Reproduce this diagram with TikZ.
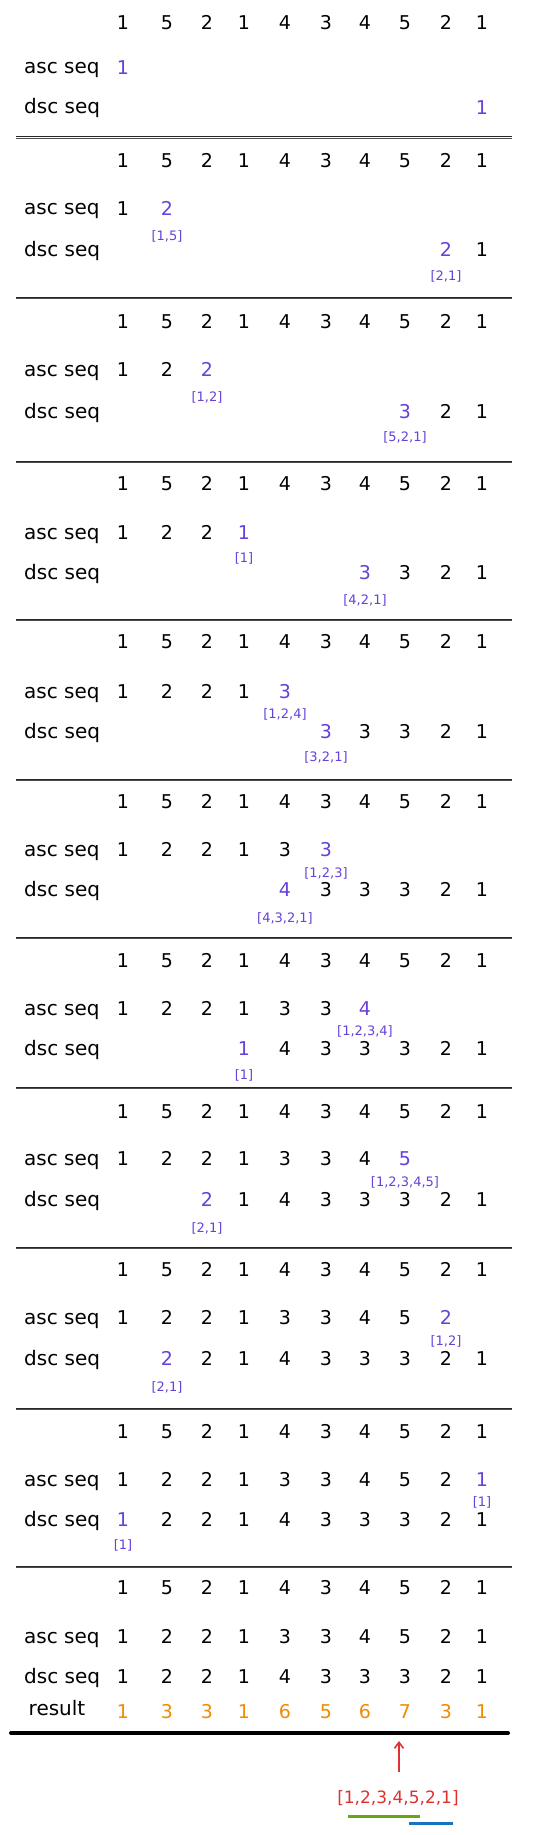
\documentclass[tikz,border=0pt]{standalone}
\usepackage{fontspec}
\setmainfont{DejaVu Sans}
\usetikzlibrary{arrows.meta}
\definecolor{vio}{HTML}{6741D9}
\definecolor{org}{HTML}{F08C00}
\definecolor{rd}{HTML}{E03131}
\definecolor{grn}{HTML}{66A80F}
\definecolor{blu}{HTML}{1971C2}
\tikzset{
 num/.style={font=\fontsize{19}{19}\selectfont, inner sep=0pt, text height=13.9pt, text depth=0pt, anchor=center},
 hl/.style={num, text=vio},
 res/.style={num, text=org},
 brk/.style={font=\fontsize{13}{13}\selectfont, text=vio, inner sep=0pt, text height=9.5pt, text depth=0pt, anchor=center},
 lbl/.style={font=\fontsize{20}{20}\selectfont, anchor=base west, inner sep=0pt},
 sepa/.style={line width=1pt, black!85},
 sepb/.style={line width=0.7pt, black!70},
}
\begin{document}
\begin{tikzpicture}[x=1pt,y=-1pt]
\fill[white] (0,0) rectangle (549,1835);
\useasboundingbox (0,0) rectangle (549,1835);
% panels
\foreach \p/\ty/\ay/\dy/\aby/\dby/\ac/\dc/\ab/\db in {
 1/23/68/108/0/0/1/10/{}/{},
 2/161/209/250/236/276/2/9/{[1,5]}/{[2,1]},
 3/322/370/412/397/437/3/8/{[1,2]}/{[5,2,1]},
 4/484/533/573/558/600/4/7/{[1]}/{[4,2,1]},
 5/642/692/732/714/757/5/6/{[1,2,4]}/{[3,2,1]},
 6/802/850/890/873/918/6/5/{[1,2,3]}/{[4,3,2,1]},
 7/961/1009/1049/1031/1075/7/4/{[1,2,3,4]}/{[1]},
 8/1112/1159/1200/1182/1228/8/3/{[1,2,3,4,5]}/{[2,1]},
 9/1270/1318/1359/1341/1387/9/2/{[1,2]}/{[2,1]},
 10/1432/1480/1520/1502/1545/10/1/{[1]}/{[1]},
 11/1588/1637/1677/0/0/11/0/{}/{}}
{
 \node[lbl] (la\p) at (24,\ay+6) {asc seq};
 \node[lbl] (ld\p) at (24,\dy+6) {dsc seq};
 \foreach \i/\x/\tv/\av/\dv in {1/123/1/1/1, 2/167/5/2/2, 3/207/2/2/2, 4/244/1/1/1, 5/285/4/3/4, 6/326/3/3/3, 7/365/4/4/3, 8/405/5/5/3, 9/446/2/2/2, 10/482/1/1/1}
 {
  \node[num] (t\p-\i) at (\x,\ty) {\tv};
  \ifnum\i<\ac \node[num] (a\p-\i) at (\x,\ay) {\av}; \fi
  \ifnum\i=\ac
    \node[hl] (a\p-\i) at (\x,\ay) {\av};
    \ifnum\p>1 \node[brk] (ab\p) at (\x,\aby) {\ab}; \fi
  \fi
  \ifnum\i>\dc \node[num] (d\p-\i) at (\x,\dy) {\dv}; \fi
  \ifnum\i=\dc
    \node[hl] (d\p-\i) at (\x,\dy) {\dv};
    \ifnum\p>1 \node[brk] (db\p) at (\x,\dby) {\db}; \fi
  \fi
 }
}
% result row
\node[font=\fontsize{20}{20}\selectfont, anchor=base, inner sep=0pt] (reslbl) at (57,1715) {result};
\foreach \i/\x/\rv in {1/123/1, 2/167/3, 3/207/3, 4/244/1, 5/285/6, 6/326/5, 7/365/6, 8/405/7, 9/446/3, 10/482/1}
 \node[res] (r-\i) at (\x,1712) {\rv};
% separators
\foreach \s in {137,297,461,619,779,937,1087,1247,1408,1566}{
 \draw[sepa] (16,\s) -- (512,\s);
 \draw[sepb] (16,\s+1.8) -- (512,\s+1.8);
}
\draw[line width=4pt, line cap=round] (11,1733) -- (508,1733);
% answer
\node[font=\fontsize{17}{17}\selectfont, text=rd, inner sep=0pt, anchor=base] (sol) at (398,1803) {[1,2,3,4,5,2,1]};
\coordinate (arrbase) at (399,1772);
\coordinate (arrtip) at (399,1741);
\draw[rd, line width=1.6pt, -{Straight Barb[length=6pt,width=9pt]}] (arrbase) -- (arrtip);
\draw[grn, line width=3pt] (348,1816) -- (420,1816);
\draw[blu, line width=3pt] (409,1823) -- (453,1823);
\end{tikzpicture}
\end{document}
